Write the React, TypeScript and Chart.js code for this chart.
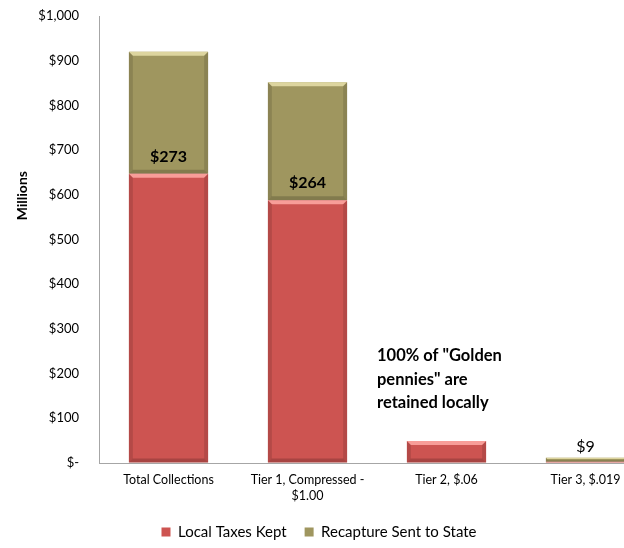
import React, { useEffect, useRef } from "react";
import { Chart, registerables } from "chart.js";

Chart.register(...registerables);

const categories: (string | string[])[] = [
  "Total Collections",
  ["Tier 1, Compressed -", "$1.00"],
  "Tier 2, $.06",
  "Tier 3, $.019",
];
const localTaxesKept = [647, 588, 49, 3];
const recaptureSentToState = [273, 264, 0, 9];
const seriesNames = ["Local Taxes Kept", "Recapture Sent to State"];
const annotationLines = ['100% of "Golden', 'pennies" are', "retained locally"];
const yAxisTitle = "Millions";

const RED = "#CD5451";
const RED_LIGHT = "rgba(255,170,165,0.85)";
const GOLD = "#9F965F";
const GOLD_LIGHT = "rgba(232,224,170,0.85)";
const FONT = "Lato, 'Open Sans', sans-serif";

const bevelPlugin = {
  id: "bevel",
  afterDatasetsDraw(chart: any) {
    const ctx = chart.ctx;
    chart.data.datasets.forEach((ds: any, di: number) => {
      const meta = chart.getDatasetMeta(di);
      const light = di === 0 ? RED_LIGHT : GOLD_LIGHT;
      meta.data.forEach((el: any) => {
        const { x, y, base, width } = el.getProps(["x", "y", "base", "width"], true);
        const top = Math.min(y, base);
        const bottom = Math.max(y, base);
        const h = bottom - top;
        if (h < 1) return;
        const l = x - width / 2;
        const r = x + width / 2;
        const b = Math.min(4, h / 3);
        ctx.save();
        ctx.fillStyle = light;
        ctx.beginPath();
        ctx.moveTo(l, top);
        ctx.lineTo(r, top);
        ctx.lineTo(r - b, top + b);
        ctx.lineTo(l + b, top + b);
        ctx.closePath();
        ctx.fill();
        ctx.fillStyle = "rgba(0,0,0,0.12)";
        ctx.beginPath();
        ctx.moveTo(r, top);
        ctx.lineTo(r, bottom);
        ctx.lineTo(r - b, bottom - b);
        ctx.lineTo(r - b, top + b);
        ctx.closePath();
        ctx.fill();
        ctx.beginPath();
        ctx.moveTo(l, top);
        ctx.lineTo(l + b, top + b);
        ctx.lineTo(l + b, bottom - b);
        ctx.lineTo(l, bottom);
        ctx.closePath();
        ctx.fill();
        ctx.fillStyle = "rgba(0,0,0,0.18)";
        ctx.beginPath();
        ctx.moveTo(l, bottom);
        ctx.lineTo(r, bottom);
        ctx.lineTo(r - b, bottom - b);
        ctx.lineTo(l + b, bottom - b);
        ctx.closePath();
        ctx.fill();
        ctx.restore();
      });
    });
  },
};

const labelPlugin = {
  id: "valueLabels",
  afterDatasetsDraw(chart: any) {
    const ctx = chart.ctx;
    const meta = chart.getDatasetMeta(1);
    const xs = chart.scales.x;
    const ys = chart.scales.y;
    ctx.save();
    ctx.fillStyle = "#000";
    ctx.textAlign = "center";
    ctx.textBaseline = "middle";
    recaptureSentToState.forEach((v, i) => {
      if (!v) return;
      const el: any = meta.data[i];
      const { y, base } = el.getProps(["y", "base"], true);
      const text = "$" + v;
      if (base - y > 30) {
        ctx.font = `bold 16px ${FONT}`;
        ctx.fillText(text, el.x, base - 17);
      } else {
        ctx.font = `16px ${FONT}`;
        ctx.fillText(text, el.x, y - 11);
      }
    });
    // y-axis title
    ctx.save();
    ctx.translate(22, ys.getPixelForValue(598));
    ctx.rotate(-Math.PI / 2);
    ctx.font = `bold 14px ${FONT}`;
    ctx.fillText(yAxisTitle, 0, 0);
    ctx.restore();
    // annotation
    const ax = xs.getPixelForValue(1.5);
    const ay = ys.getPixelForValue(240);
    ctx.textAlign = "left";
    ctx.font = `bold 16.5px ${FONT}`;
    annotationLines.forEach((line, k) => {
      ctx.fillText(line, ax, ay + k * 23.5);
    });
    ctx.restore();
  },
};

export default function App() {
  const ref = useRef<HTMLCanvasElement>(null);
  useEffect(() => {
    const canvas = ref.current!;
    Chart.defaults.font.family = FONT;
    const chart = new Chart(canvas, {
      type: "bar",
      data: {
        datasets: [
          {
            label: seriesNames[0],
            data: localTaxesKept.map((v, i) => ({ x: i, y: v })),
            backgroundColor: RED,
            borderWidth: 0,
            barPercentage: 0.57,
            categoryPercentage: 1,
          },
          {
            label: seriesNames[1],
            data: recaptureSentToState.map((v, i) => ({ x: i, y: v })),
            backgroundColor: GOLD,
            borderWidth: 0,
            barPercentage: 0.57,
            categoryPercentage: 1,
          },
        ],
      },
      options: {
        responsive: false,
        animation: false,
        layout: { padding: { left: 14, top: 16, right: 0, bottom: -1.5 } },
        plugins: {
          legend: {
            position: "bottom",
            labels: {
              boxWidth: 9,
              boxHeight: 9,
              padding: 18,
              color: "#000",
              font: { size: 15, family: FONT },
            },
          },
          tooltip: { enabled: false },
        },
        scales: {
          x: {
            type: "linear",
            stacked: true,
            offset: false,
            min: -0.5,
            max: 3.277,
            grid: {
              display: true,
              drawOnChartArea: false,
              drawTicks: true,
              tickLength: 7,
              color: "rgba(0,0,0,0)",
              offset: false,
            },
            border: { display: true, color: "#A6A6A6" },
            afterBuildTicks: (s: any) => {
              s.ticks = categories.map((_, i) => ({ value: i }));
            },
            ticks: {
              callback: (v: any) => categories[v as number],
              font: { size: 12.5, family: FONT, lineHeight: 1.3 },
              color: "#000",
              padding: 2,
              maxRotation: 0,
              autoSkip: false,
            },
          },
          y: {
            stacked: true,
            min: 0,
            max: 1000,
            grid: {
              display: true,
              drawOnChartArea: false,
              drawTicks: true,
              tickLength: 17,
              color: "rgba(0,0,0,0)",
            },
            border: { display: true, color: "#A6A6A6" },
            ticks: {
              stepSize: 100,
              callback: (v: any) => (v === 0 ? "$-" : "$" + Number(v).toLocaleString("en-US")),
              padding: 3,
              color: "#000",
              font: { size: 13, family: FONT },
            },
            afterFit: (s: any) => {
              s.width = 85;
            },
          },
        },
      },
      plugins: [bevelPlugin, labelPlugin],
    });
    return () => chart.destroy();
  }, []);
  return (
    <div
      style={{
        position: "absolute",
        left: 0,
        top: 0,
        width: 624,
        height: 548,
        overflow: "hidden",
        background: "#fff",
      }}
    >
      <canvas ref={ref} width={624} height={548} style={{ display: "block", width: 624, height: 548 }} />
    </div>
  );
}
